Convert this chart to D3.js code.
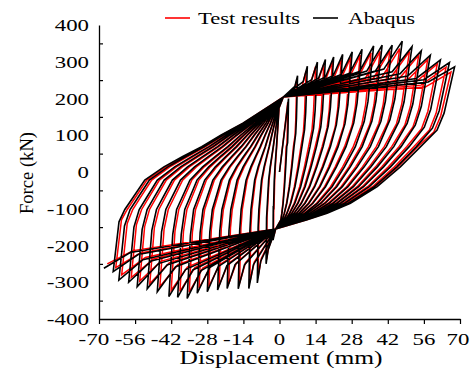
<!DOCTYPE html>
<html><head><meta charset="utf-8">
<script src="https://cdn.jsdelivr.net/npm/d3@7"></script>
<style>body{margin:0;background:#fff}svg{display:block}</style>
</head><body>
<script>
// ---- data ----
// Abaqus (black) cycle peaks
const dPosB=[3.5,7,10.8,14.7,17.8,21,24.5,28.2,32,36.5,39.8,43.7,47.6,51.4,55,58.5,62.4,65.9,67.9];
const fPosB=[200,262,288,299,306,313,320,327,334,343,345,345,356,341,330,318,305,298,286];
const dNegB=[-2.5,-5.2,-8.6,-11.9,-16,-20.3,-24,-28,-31.9,-35.8,-39.5,-42.9,-47.4,-51.3,-55.2,-58.5,-62.3,-64.5,-68.1];
const fNegB=[-185,-250,-302,-317,-318,-317,-321,-326,-330,-344,-341,-339,-326,-318,-312,-300,-294,-271,-262];
// Test results (red) cycle peaks
const dPosR=[3.2,6.7,10.3,14,17.2,20.5,24,27.6,31.3,35.5,39,42.8,46.6,50.4,54,57.5,61.2,64.6,66.5];
const fPosR=[190,250,275,287,294,300,306,312,318,325,328,330,336,328,318,306,294,285,272];
const dNegR=[-2.3,-5,-8.3,-11.5,-15.5,-19.7,-23.4,-27.4,-31.2,-35,-38.6,-42,-46.4,-50.3,-54.2,-57.5,-61.2,-63.5,-66.8];
const fNegR=[-175,-238,-285,-300,-303,-304,-308,-312,-316,-327,-325,-322,-312,-304,-297,-287,-280,-260,-250];
// loop shape read from the outermost loop (displacement as fraction of amplitude, force in kN)
const reloadU=[-0.965,-0.93,-0.885,-0.81,-0.695,-0.582,-0.468,-0.353,-0.22,-0.08];
const reloadF=[null,-102,-72,-22,14,42,69,100,133,174];
const unloadU=[0.94,0.90,0.806,0.69,0.558,0.405,0.272,0.158];
const unloadF=[null,null,69,14,-40,-85,-112,-130];
const upperPinch=[1.5,204];
const lowerPinch=[-1.5,-155];
// axis ticks
const xTicks=[-70,-56,-42,-28,-14,0,14,28,42,56,70];
const yLabels=[400,300,200,100,0,-100,-200,-300,-400];
const yTicks=[350,250,150,50,-50,-150,-250,-350];

const W=471,H=378;
const svg=d3.select("body").append("svg").attr("width",W).attr("height",H);
const x=d3.scaleLinear().domain([-70,70]).range([99,460]);
const y=d3.scaleLinear().domain([-400,400]).range([319,25]);

function loopPoints(dP,fP,dN,fN,posFrac,negFrac){
  const pts=[[0,0]];
  for(let i=0;i<dP.length;i++){
    if(i>0){
      const D=Math.abs(dN[i-1]), Fn=fN[i-1];
      reloadU.forEach((u,k)=>pts.push([u*D, k===0?Fn*0.5:reloadF[k]]));
      pts.push(upperPinch);
      pts.push([dP[i]*0.85, upperPinch[1]+posFrac*(fP[i]-upperPinch[1])]);
    }
    pts.push([dP[i],fP[i]]);
    const D=dP[i], Fp=fP[i];
    unloadU.forEach((u,k)=>pts.push([u*D, k===0?Fp*0.56:(k===1?Fp*0.4:unloadF[k])]));
    pts.push(lowerPinch);
    pts.push([dN[i]*0.85, lowerPinch[1]+negFrac*(fN[i]-lowerPinch[1])]);
    pts.push([dN[i],fN[i]]);
  }
  return pts;
}
const line=d3.line().x(d=>x(d[0])).y(d=>y(d[1]));
const g=svg.append("g");
g.append("path").datum(loopPoints(dPosR,fPosR,dNegR,fNegR,0.4,0.62))
  .attr("d",line).attr("fill","none").attr("stroke","#ff0000").attr("stroke-width",1.5).attr("stroke-linejoin","miter");
g.append("path").datum(loopPoints(dPosB,fPosB,dNegB,fNegB,0.5,0.6))
  .attr("d",line).attr("fill","none").attr("stroke","#000").attr("stroke-width",1.6).attr("stroke-linejoin","miter");

// axes
const font="'Liberation Serif', serif";
svg.append("g").attr("transform","translate(99,0)")
  .call(d3.axisRight(y).tickValues(yTicks).tickSize(4).tickFormat("").tickSizeOuter(0));
svg.append("g").attr("transform","translate(0,319)")
  .call(d3.axisBottom(x).tickValues(xTicks).tickSize(5).tickFormat("").tickSizeOuter(0));
svg.selectAll(".domain").attr("stroke","#000").attr("stroke-width",1.3);
svg.selectAll(".tick line").attr("stroke","#000").attr("stroke-width",1.2);
svg.selectAll(".tick text").remove();

const labLen=s=>String(s).split("").reduce((a,c)=>a+(c==="-"?8:11.4),0);
svg.append("g").selectAll("text").data(yLabels).join("text")
  .attr("x",89).attr("y",d=>y(d)+6).attr("text-anchor","end")
  .attr("font-family",font).attr("font-size",17)
  .attr("textLength",d=>labLen(d)).attr("lengthAdjust","spacingAndGlyphs")
  .text(d=>d);
svg.append("g").selectAll("text").data(xTicks).join("text")
  .attr("x",d=>x(d)+(d<0?-5:(d===70?-2:0))).attr("y",345).attr("text-anchor","middle")
  .attr("font-family",font).attr("font-size",17)
  .attr("textLength",d=>labLen(d)).attr("lengthAdjust","spacingAndGlyphs")
  .text(d=>d);

svg.append("text").attr("x",281).attr("y",364).attr("text-anchor","middle")
  .attr("font-family",font).attr("font-size",18).attr("textLength",203).attr("lengthAdjust","spacingAndGlyphs")
  .text("Displacement (mm)");
svg.append("text").attr("transform","translate(33,173) rotate(-90)").attr("text-anchor","middle")
  .attr("font-family",font).attr("font-size",18).attr("textLength",82).attr("lengthAdjust","spacingAndGlyphs")
  .text("Force (kN)");

// legend
const leg=svg.append("g");
leg.append("line").attr("x1",165).attr("x2",190).attr("y1",18).attr("y2",18).attr("stroke","#ff0000").attr("stroke-width",1.6);
leg.append("text").attr("x",198).attr("y",24).attr("font-family",font).attr("font-size",17)
  .attr("textLength",102).attr("lengthAdjust","spacingAndGlyphs").text("Test results");
leg.append("line").attr("x1",313).attr("x2",338).attr("y1",18).attr("y2",18).attr("stroke","#000").attr("stroke-width",1.6);
leg.append("text").attr("x",348).attr("y",24).attr("font-family",font).attr("font-size",17)
  .attr("textLength",67).attr("lengthAdjust","spacingAndGlyphs").text("Abaqus");
</script>
</body></html>
